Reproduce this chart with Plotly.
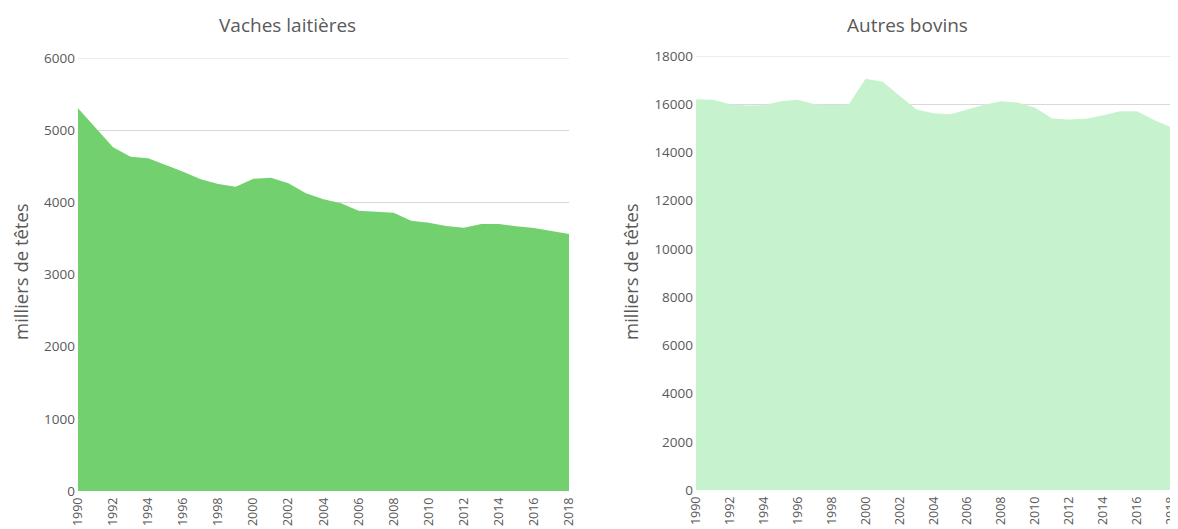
import plotly.graph_objects as go

years = list(range(1990, 2019))
vaches_laitieres = [5303, 5035, 4762, 4633, 4610, 4517, 4425, 4319, 4254, 4217,
                    4328, 4341, 4264, 4125, 4042, 3986, 3884, 3870, 3856, 3745,
                    3717, 3672, 3648, 3700, 3700, 3668, 3644, 3603, 3561]
autres_bovins = [16210, 16183, 15995, 15946, 15960, 16125, 16183, 16000, 15970, 15985,
                 17055, 16930, 16350, 15780, 15626, 15585, 15780, 15975, 16125, 16058,
                 15850, 15405, 15365, 15393, 15543, 15710, 15710, 15350, 15044]
titles = ["Vaches laitières", "Autres bovins"]
ytitle = "milliers de têtes"
xticks = list(range(1990, 2019, 2))
ymax = [6000, 18000]

FONT = "Open Sans, DejaVu Sans, sans-serif"
GREY = "#595959"
OFF = 8  # page body margin
W, H = 1178, 529


def px(x):
    return (x - OFF) / W


def py(y):
    return 1 - (y - OFF) / H


fig = go.Figure()
fig.add_trace(go.Scatter(x=years, y=vaches_laitieres, mode="lines", fill="tozeroy",
                         line=dict(color="#72D16E", width=0), fillcolor="#72D16E",
                         xaxis="x", yaxis="y", showlegend=False))
fig.add_trace(go.Scatter(x=years, y=autres_bovins, mode="lines", fill="tozeroy",
                         line=dict(color="#C6F3CE", width=0), fillcolor="#C6F3CE",
                         xaxis="x2", yaxis="y2", showlegend=False))

xcommon = dict(range=[1990, 2018], tickvals=xticks, ticktext=[str(t) for t in xticks],
               tickangle=-90, showgrid=False, zeroline=False, showline=False,
               ticklabelstandoff=3,
               tickfont=dict(family=FONT, size=12.5, color=GREY), ticks="", fixedrange=True)
ycommon = dict(showgrid=True, gridcolor="#D9D9D9", gridwidth=1, zeroline=False,
               showline=False, ticks="", tickformat="d", ticklabelstandoff=2,
               tickfont=dict(family=FONT, size=13.5, color=GREY))

shapes = []
for xr, yr, top in [("x domain", "y", ymax[0]), ("x2 domain", "y2", ymax[1])]:
    shapes.append(dict(type="line", xref=xr, yref=yr, x0=0, x1=1, y0=top, y1=top,
                       line=dict(color="#D9D9D9", width=1), layer="below"))

ann = dict(xref="paper", yref="paper", showarrow=False, xanchor="center", yanchor="middle")
fig.update_layout(
    width=W, height=H,
    margin=dict(l=0, r=0, t=0, b=0, autoexpand=False),
    paper_bgcolor="white", plot_bgcolor="white",
    xaxis=dict(domain=[px(78), px(569)], anchor="y", **xcommon),
    yaxis=dict(domain=[py(491), py(58)], range=[0, ymax[0]], dtick=1000,
               anchor="x", **ycommon),
    xaxis2=dict(domain=[px(696), px(1171)], anchor="y2", **xcommon),
    yaxis2=dict(domain=[py(490), py(56)], range=[0, ymax[1]], dtick=2000,
                anchor="x2", **ycommon),
    shapes=shapes,
    annotations=[
        dict(text=titles[0], x=px(287), y=py(25),
             font=dict(family=FONT, size=19, color=GREY), **ann),
        dict(text=titles[1], x=px(907), y=py(25),
             font=dict(family=FONT, size=19, color=GREY), **ann),
        dict(text=ytitle, x=px(20), y=py(272), textangle=-90,
             font=dict(family=FONT, size=18.5, color=GREY), **ann),
        dict(text=ytitle, x=px(630), y=py(272), textangle=-90,
             font=dict(family=FONT, size=18.5, color=GREY), **ann),
    ],
)

fig.write_html("out.html")
